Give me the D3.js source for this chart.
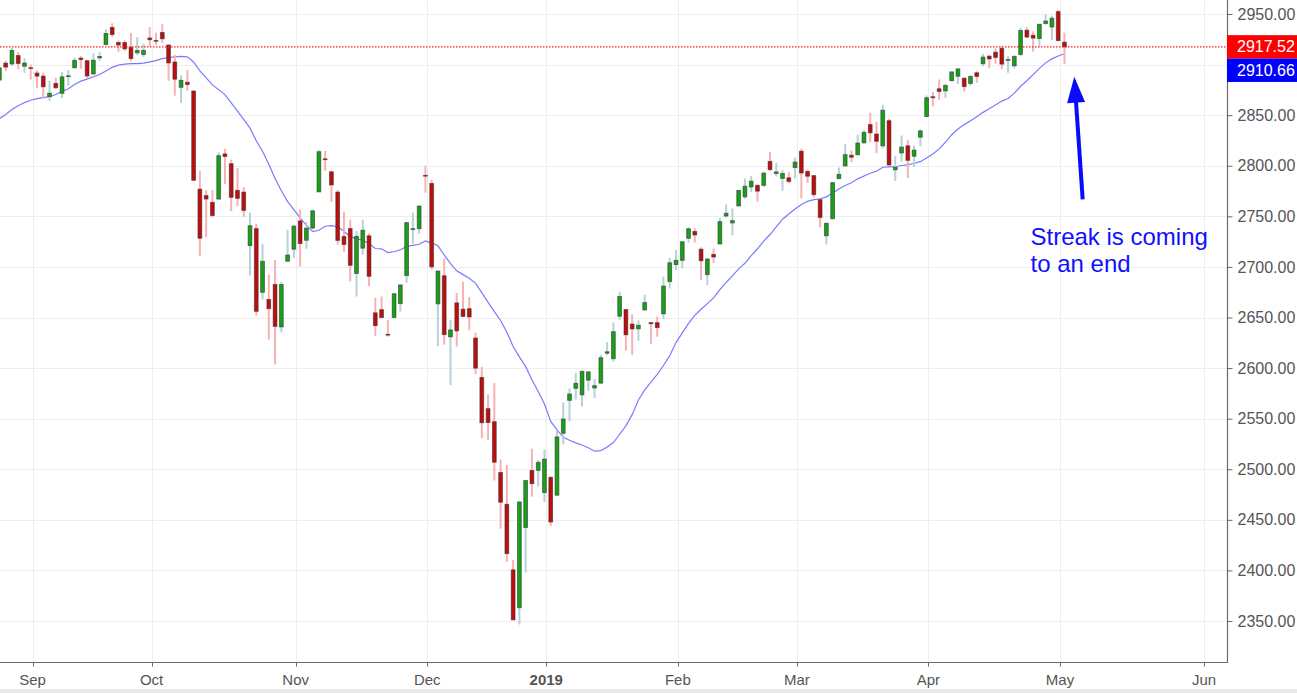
<!DOCTYPE html>
<html><head><meta charset="utf-8">
<script src="https://cdn.jsdelivr.net/npm/d3@7"></script>
<style>
html,body{margin:0;padding:0;background:#fff;overflow:hidden}
text{font-family:"Liberation Sans",Arial,Helvetica,sans-serif}
</style>
</head><body><svg id="chart" width="1297" height="693"></svg>
<script>
// ---------- data (S&P 500 daily candles, 20-day SMA) ----------
const dates = [
"2018-08-27","2018-08-28","2018-08-29","2018-08-30","2018-08-31",
"2018-09-04","2018-09-05","2018-09-06","2018-09-07","2018-09-10","2018-09-11","2018-09-12","2018-09-13","2018-09-14","2018-09-17","2018-09-18","2018-09-19","2018-09-20","2018-09-21","2018-09-24","2018-09-25","2018-09-26","2018-09-27","2018-09-28",
"2018-10-01","2018-10-02","2018-10-03","2018-10-04","2018-10-05","2018-10-08","2018-10-09","2018-10-10","2018-10-11","2018-10-12","2018-10-15","2018-10-16","2018-10-17","2018-10-18","2018-10-19","2018-10-22","2018-10-23","2018-10-24","2018-10-25","2018-10-26","2018-10-29","2018-10-30","2018-10-31",
"2018-11-01","2018-11-02","2018-11-05","2018-11-06","2018-11-07","2018-11-08","2018-11-09","2018-11-12","2018-11-13","2018-11-14","2018-11-15","2018-11-16","2018-11-19","2018-11-20","2018-11-21","2018-11-23","2018-11-26","2018-11-27","2018-11-28","2018-11-29","2018-11-30",
"2018-12-03","2018-12-04","2018-12-06","2018-12-07","2018-12-10","2018-12-11","2018-12-12","2018-12-13","2018-12-14","2018-12-17","2018-12-18","2018-12-19","2018-12-20","2018-12-21","2018-12-24","2018-12-26","2018-12-27","2018-12-28","2018-12-31",
"2019-01-02","2019-01-03","2019-01-04","2019-01-07","2019-01-08","2019-01-09","2019-01-10","2019-01-11","2019-01-14","2019-01-15","2019-01-16","2019-01-17","2019-01-18","2019-01-22","2019-01-23","2019-01-24","2019-01-25","2019-01-28","2019-01-29","2019-01-30","2019-01-31",
"2019-02-01","2019-02-04","2019-02-05","2019-02-06","2019-02-07","2019-02-08","2019-02-11","2019-02-12","2019-02-13","2019-02-14","2019-02-15","2019-02-19","2019-02-20","2019-02-21","2019-02-22","2019-02-25","2019-02-26","2019-02-27","2019-02-28",
"2019-03-01","2019-03-04","2019-03-05","2019-03-06","2019-03-07","2019-03-08","2019-03-11","2019-03-12","2019-03-13","2019-03-14","2019-03-15","2019-03-18","2019-03-19","2019-03-20","2019-03-21","2019-03-22","2019-03-25","2019-03-26","2019-03-27","2019-03-28","2019-03-29",
"2019-04-01","2019-04-02","2019-04-03","2019-04-04","2019-04-05","2019-04-08","2019-04-09","2019-04-10","2019-04-11","2019-04-12","2019-04-15","2019-04-16","2019-04-17","2019-04-18","2019-04-22","2019-04-23","2019-04-24","2019-04-25","2019-04-26","2019-04-29","2019-04-30",
"2019-05-01","2019-05-02"];

const opens = [2884.69,2901.45,2900.62,2908.94,2898.37,
2896.96,2891.59,2888.64,2868.26,2881.39,2871.57,2888.29,2896.85,2906.38,2903.83,2890.74,2906.60,2919.73,2936.76,2921.83,2921.75,2916.98,2911.65,2910.03,
2926.29,2923.80,2931.69,2919.35,2902.54,2877.53,2882.51,2873.90,2776.87,2770.54,2763.83,2767.05,2811.67,2802.00,2775.66,2773.94,2721.03,2737.87,2674.88,2667.86,2682.65,2640.68,2705.60,
2717.58,2745.45,2726.37,2738.40,2774.13,2806.83,2794.10,2773.93,2730.05,2737.90,2693.52,2718.54,2730.74,2654.60,2657.74,2633.36,2649.97,2663.75,2691.45,2736.97,2737.76,
2790.50,2782.43,2663.51,2691.26,2630.86,2664.44,2658.23,2658.70,2629.68,2590.75,2559.90,2547.05,2496.77,2465.38,2400.56,2363.12,2442.50,2498.77,2498.94,
2476.96,2491.92,2474.33,2535.61,2568.11,2580.00,2573.51,2588.11,2580.31,2585.10,2614.75,2609.28,2651.27,2657.88,2643.48,2638.84,2657.44,2644.97,2644.89,2653.62,2685.49,
2702.32,2706.49,2728.34,2735.05,2717.53,2692.36,2712.40,2722.61,2750.30,2743.50,2760.24,2769.28,2779.05,2780.67,2780.67,2804.35,2792.36,2787.50,2788.11,
2798.22,2814.37,2794.41,2790.27,2766.53,2730.79,2747.61,2787.34,2799.78,2810.38,2810.79,2822.61,2840.76,2831.34,2819.72,2844.52,2796.01,2812.66,2819.72,2809.40,2828.27,
2848.63,2868.24,2876.09,2873.99,2884.16,2888.46,2886.58,2881.37,2891.92,2900.86,2908.32,2912.26,2916.04,2904.81,2898.78,2909.99,2934.00,2928.99,2925.81,2940.58,2937.14,
2952.33,2922.16];

const highs = [2898.25,2903.77,2916.50,2912.46,2906.32,
2900.18,2894.21,2892.05,2883.81,2886.93,2892.52,2894.65,2906.76,2908.30,2904.65,2911.17,2912.36,2934.80,2940.91,2923.79,2923.95,2931.15,2927.22,2920.53,
2937.06,2931.42,2939.86,2919.78,2909.64,2889.45,2894.83,2874.02,2795.14,2775.77,2775.99,2813.46,2816.94,2806.04,2797.77,2778.94,2753.59,2742.59,2722.70,2692.38,2706.85,2685.43,2736.69,
2741.67,2756.55,2744.27,2756.82,2815.15,2814.75,2794.10,2775.99,2754.60,2746.80,2735.38,2746.75,2733.16,2669.44,2670.73,2647.55,2674.35,2682.53,2744.00,2753.75,2760.88,
2800.18,2785.93,2696.15,2708.54,2647.51,2674.35,2685.44,2670.19,2635.07,2601.13,2573.99,2585.29,2509.63,2504.41,2410.34,2467.76,2489.10,2520.27,2509.24,
2519.49,2493.14,2538.07,2566.16,2579.82,2595.32,2597.82,2596.27,2589.32,2613.08,2625.76,2645.06,2675.47,2657.88,2653.19,2647.20,2672.38,2644.97,2650.93,2690.44,2708.95,
2716.66,2724.99,2738.98,2738.08,2719.32,2708.07,2718.05,2748.19,2761.85,2757.90,2775.66,2787.33,2789.88,2781.58,2794.20,2813.49,2803.12,2795.76,2793.73,
2808.02,2816.88,2796.44,2790.27,2767.25,2744.13,2784.00,2798.32,2821.24,2815.00,2830.73,2835.41,2852.42,2843.54,2860.31,2846.16,2809.79,2829.87,2825.56,2819.71,2836.03,
2869.40,2872.90,2885.25,2881.28,2893.24,2895.95,2886.88,2889.71,2893.42,2910.54,2909.60,2916.06,2918.00,2908.40,2909.51,2936.31,2936.83,2933.10,2939.88,2949.52,2948.22,
2954.13,2931.68];

const lows = [2884.69,2893.50,2898.40,2895.22,2891.73,
2885.13,2876.92,2867.29,2864.12,2875.94,2866.78,2879.20,2896.39,2895.77,2886.16,2890.43,2903.82,2919.73,2927.11,2912.63,2913.70,2903.28,2909.27,2907.50,
2917.91,2919.37,2921.36,2883.92,2869.29,2862.08,2874.27,2784.86,2710.51,2729.44,2749.03,2766.91,2781.81,2755.18,2760.27,2749.22,2691.43,2651.89,2667.84,2628.16,2603.54,2635.34,2705.60,
2708.85,2700.44,2717.94,2737.08,2774.13,2794.99,2764.24,2722.00,2714.98,2685.75,2670.75,2712.16,2681.09,2631.52,2649.82,2631.09,2649.97,2655.89,2684.38,2722.94,2732.76,
2773.38,2697.18,2621.53,2623.14,2583.23,2621.30,2650.26,2637.27,2593.84,2530.54,2528.71,2488.96,2441.18,2408.55,2351.10,2346.58,2397.94,2472.89,2482.82,
2467.47,2443.96,2474.33,2524.56,2547.56,2568.89,2562.02,2577.40,2570.41,2585.10,2612.68,2606.36,2647.58,2617.27,2612.86,2627.01,2657.33,2624.06,2631.05,2648.34,2678.65,
2696.88,2698.75,2724.03,2724.15,2687.26,2681.83,2703.79,2722.61,2748.63,2731.23,2760.24,2767.29,2774.06,2764.55,2779.11,2794.99,2789.47,2775.13,2782.51,
2787.38,2767.66,2782.97,2768.69,2739.09,2722.27,2747.61,2786.73,2799.78,2803.46,2810.79,2821.99,2823.27,2812.43,2817.38,2800.47,2785.02,2803.99,2787.72,2798.77,2819.23,
2848.63,2858.75,2865.17,2867.14,2882.99,2880.78,2873.33,2879.13,2881.99,2898.37,2896.48,2900.71,2895.45,2891.90,2896.35,2908.53,2926.05,2912.84,2917.56,2939.35,2924.11,
2923.36,2900.50];

const closes = [2896.74,2897.52,2914.04,2901.13,2901.52,
2896.72,2888.60,2878.05,2871.68,2877.13,2887.89,2888.92,2904.18,2904.98,2888.80,2904.31,2907.95,2930.75,2929.67,2919.37,2915.56,2905.97,2914.00,2913.98,
2924.59,2923.43,2925.51,2901.61,2885.57,2884.43,2880.34,2785.68,2728.37,2767.13,2750.79,2809.92,2809.21,2768.78,2767.78,2755.88,2740.69,2656.10,2705.57,2658.69,2641.25,2682.63,2711.74,
2740.37,2723.06,2738.31,2755.45,2813.89,2806.83,2781.01,2726.22,2722.18,2701.58,2730.20,2736.27,2690.73,2641.89,2649.93,2632.56,2673.45,2682.17,2743.79,2737.80,2760.17,
2790.37,2700.06,2695.95,2633.08,2637.72,2636.78,2651.07,2650.54,2599.95,2545.94,2546.16,2506.96,2467.42,2416.62,2351.10,2467.70,2488.83,2485.74,2506.85,
2510.03,2447.89,2531.94,2549.69,2574.41,2584.96,2596.64,2596.26,2582.61,2610.30,2616.10,2635.96,2670.71,2632.90,2638.70,2642.33,2664.76,2643.85,2640.00,2681.05,2704.10,
2706.53,2724.87,2737.70,2731.61,2706.05,2707.88,2709.80,2744.73,2753.03,2745.73,2775.60,2779.76,2784.70,2774.88,2792.67,2796.11,2793.90,2792.38,2784.49,
2803.69,2792.81,2789.65,2771.45,2748.93,2743.07,2783.30,2791.52,2810.92,2808.48,2822.48,2832.94,2832.57,2824.23,2854.88,2800.71,2798.36,2818.46,2805.37,2815.44,2834.40,
2867.19,2867.24,2873.40,2879.39,2892.74,2895.77,2878.20,2888.21,2888.32,2907.41,2905.58,2907.06,2900.45,2905.03,2907.97,2933.68,2927.25,2926.17,2939.88,2943.03,2945.83,
2923.73,2917.52];

const sma20 = [2846.60,2850.66,2855.69,2859.39,2862.45,
2864.76,2866.27,2867.29,2868.19,2870.39,2873.68,2876.13,2880.42,2883.64,2885.57,2887.93,2890.18,2893.63,2897.26,2899.50,2900.44,2900.86,2900.86,2901.50,
2902.66,2903.99,2905.84,2907.01,2907.71,2908.07,2907.70,2902.53,2893.74,2886.85,2879.95,2875.23,2870.29,2862.20,2854.10,2845.93,2837.18,2824.69,2814.27,2801.50,2787.34,2775.30,2764.61,
2756.55,2748.42,2741.11,2734.87,2736.28,2740.20,2740.90,2739.67,2735.28,2729.90,2727.97,2726.40,2723.14,2718.20,2717.89,2714.24,2714.98,2717.02,2720.08,2721.38,2722.37,
2725.74,2723.83,2720.85,2711.81,2703.36,2696.14,2692.39,2688.81,2683.72,2674.51,2665.01,2655.82,2647.09,2635.43,2621.36,2611.07,2601.40,2588.50,2576.95,
2564.44,2547.32,2538.91,2531.60,2528.67,2526.03,2524.02,2521.28,2517.88,2518.40,2521.91,2526.40,2534.59,2542.86,2553.97,2568.53,2578.38,2586.13,2593.84,2602.55,2612.26,
2625.19,2634.84,2644.24,2652.10,2658.15,2663.71,2669.39,2677.50,2684.63,2691.11,2698.10,2703.55,2711.14,2717.95,2725.46,2732.03,2739.53,2747.15,2752.33,
2757.31,2761.62,2764.86,2766.55,2767.41,2769.26,2773.03,2777.12,2780.43,2783.20,2787.04,2789.91,2792.55,2794.52,2798.52,2798.93,2799.04,2800.27,2800.92,2802.46,2804.00,
2807.72,2811.60,2816.69,2823.22,2830.70,2836.32,2840.66,2844.52,2848.51,2852.76,2856.39,2860.12,2863.93,2866.44,2871.80,2878.57,2884.01,2890.05,2896.27,2901.70,2905.63,
2908.45,2910.66];

const yTicks = [2350,2400,2450,2500,2550,2600,2650,2700,2750,2800,2850,2900,2950];
const xTickDates  = ["2018-09-04","2018-10-01","2018-11-01","2018-12-03","2019-01-02","2019-02-01","2019-03-01","2019-04-01","2019-05-01","2019-06-03"];
const xTickLabels = ["Sep","Oct","Nov","Dec","2019","Feb","Mar","Apr","May","Jun"];
const annotationLines = ["Streak is coming","to an end"];

// ---------- layout ----------
const W = 1297, H = 693;
const plotRight = 1227, plotBottom = 662;
const svg = d3.select("#chart");

// trading-day index of a date (future dates: count weekdays after last candle)
function tradingIndex(ds){
  const k = dates.indexOf(ds);
  if (k >= 0) return k;
  let n = dates.length - 1;
  let d = new Date(dates[n] + "T00:00:00Z");
  const end = new Date(ds + "T00:00:00Z");
  while (d < end){
    d = new Date(d.getTime() + 86400000);
    const wd = d.getUTCDay();
    if (wd !== 0 && wd !== 6) n++;
  }
  return n;
}
const lastTickIdx = tradingIndex(xTickDates[xTickDates.length-1]);
const x = d3.scaleLinear().domain([0, lastTickIdx]).range([-0.6, -0.6 + lastTickIdx*6.265]);
const y = d3.scaleLinear().domain([2350, 2950]).range([621, 14]);
const tickShift = 1.8;

// background
svg.append("rect").attr("width", W).attr("height", H).attr("fill", "#fff");
svg.append("rect").attr("x", 0).attr("y", 689).attr("width", W).attr("height", 4).attr("fill", "#e9e9e9");

// grid
const grid = svg.append("g").attr("shape-rendering", "crispEdges");
grid.selectAll("line.h").data(yTicks).join("line")
  .attr("x1", 0).attr("x2", plotRight).attr("y1", d => Math.round(y(d)) + 0.5).attr("y2", d => Math.round(y(d)) + 0.5)
  .attr("stroke", "#eeeeee").attr("stroke-width", 1);
const xTickIdx = xTickDates.map(tradingIndex);
grid.selectAll("line.v").data(xTickIdx).join("line")
  .attr("x1", d => Math.round(x(d) + tickShift) + 0.5).attr("x2", d => Math.round(x(d) + tickShift) + 0.5)
  .attr("y1", 0).attr("y2", plotBottom)
  .attr("stroke", "#eeeeee").attr("stroke-width", 1);

// plot clip
svg.append("clipPath").attr("id", "clip").append("rect").attr("x", 0).attr("y", 0).attr("width", plotRight).attr("height", plotBottom);
const plot = svg.append("g").attr("clip-path", "url(#clip)");

const lastClose = closes[closes.length - 1];
const lastSma = sma20[sma20.length - 1];

// SMA line
plot.append("path").datum(sma20)
  .attr("fill", "none").attr("stroke", "#7a7aff").attr("stroke-width", 1.2)
  .attr("d", d3.line().x((d, i) => x(i)).y(d => y(d)));

// candles
const candles = dates.map((d, i) => ({i, o: opens[i], h: highs[i], l: lows[i], c: closes[i]}));
const g = plot.append("g");
g.selectAll("line.wick").data(candles).join("line")
  .attr("x1", d => x(d.i)).attr("x2", d => x(d.i))
  .attr("y1", d => y(d.h)).attr("y2", d => y(d.l))
  .attr("stroke", d => d.c > d.o ? "#b6d2d6" : "#f5b3b6").attr("stroke-width", 2);
g.selectAll("rect.body").data(candles).join("rect")
  .attr("x", d => x(d.i) - 1.9).attr("width", 3.8)
  .attr("y", d => Math.min(y(d.o), y(d.c)))
  .attr("height", d => Math.max(0.8, Math.abs(y(d.o) - y(d.c))))
  .attr("fill", d => d.c > d.o ? "#18a018" : "#c00d0d")
  .attr("stroke", "rgba(45,45,45,0.6)").attr("stroke-width", 0.9);

// last price dotted line (red)
const ly = y(lastClose);
svg.append("line").attr("x1", 0).attr("x2", plotRight).attr("y1", ly).attr("y2", ly)
  .attr("stroke", "#ff1a1a").attr("stroke-width", 1.3)
  .attr("stroke-dasharray", "1.5,1.5");

// axes lines
svg.append("line").attr("x1", 0).attr("x2", plotRight + 0.5).attr("y1", plotBottom + 0.5).attr("y2", plotBottom + 0.5)
  .attr("stroke", "#6a6a6a").attr("stroke-width", 1.2);
svg.append("line").attr("x1", plotRight + 0.5).attr("x2", plotRight + 0.5).attr("y1", 0).attr("y2", plotBottom + 1)
  .attr("stroke", "#6a6a6a").attr("stroke-width", 1.2);

// price label boxes geometry (labels of the right axis hidden by them are not drawn)
const boxH = 23.4;
const redC = y(lastClose);
const blueC = Math.max(y(lastSma), redC + boxH);
const boxes = [[redC, "#ff0000", lastClose], [blueC, "#0000ff", lastSma]];
const hidden = v => boxes.some(([cy]) => Math.abs(y(v) - cy) < boxH/2 + 6);

// y axis (right)
const yAxis = d3.axisRight(y).tickValues(yTicks).tickSize(5).tickPadding(5)
  .tickFormat(d => hidden(d) ? "" : d3.format(".2f")(d));
const ya = svg.append("g").attr("transform", `translate(${plotRight + 0.5},0)`).call(yAxis);
ya.select(".domain").remove();
ya.selectAll(".tick line").attr("stroke", "#6a6a6a");
ya.selectAll(".tick text").attr("fill", "#555").attr("font-size", 16).attr("font-family", "Liberation Sans, Arial, sans-serif");

// x axis (bottom) with month labels
const xa = svg.append("g").attr("transform", `translate(0,${plotBottom + 0.5})`);
xa.selectAll("line").data(xTickIdx).join("line")
  .attr("x1", d => Math.round(x(d) + tickShift) + 0.5).attr("x2", d => Math.round(x(d) + tickShift) + 0.5)
  .attr("y1", 0).attr("y2", 4).attr("stroke", "#6a6a6a");
xa.selectAll("text").data(xTickIdx).join("text")
  .attr("x", d => x(d) + tickShift).attr("y", 22)
  .attr("text-anchor", "middle").attr("font-size", 15).attr("fill", "#555")
  .attr("font-weight", (d, i) => xTickLabels[i] === "2019" ? "bold" : "normal")
  .text((d, i) => xTickLabels[i]);

// price labels on right
boxes.forEach(([cy, col, v]) => {
  svg.append("rect").attr("x", plotRight).attr("y", cy - boxH/2).attr("width", W - plotRight).attr("height", boxH).attr("fill", col);
  svg.append("text").attr("x", 1237).attr("y", cy).attr("dy", "0.35em")
    .attr("fill", "#fff").attr("font-size", 16).text(d3.format(".2f")(v));
});

// annotation (anchored in data space)
const arrowTail = {i: 172.91, v: 2766.8};
const arrowTip  = {i: 171.57, v: 2888.0};
const tx = x(arrowTip.i), ty = y(arrowTip.v), sx = x(arrowTail.i), sy = y(arrowTail.v);
const len = Math.hypot(tx - sx, ty - sy), ux = (tx - sx)/len, uy = (ty - sy)/len;
const headL = 26, headW = 9;
const bx = tx - ux*headL, by = ty - uy*headL;
svg.append("line").attr("x1", sx).attr("y1", sy).attr("x2", bx + ux*2).attr("y2", by + uy*2)
  .attr("stroke", "#0a0aff").attr("stroke-width", 4);
svg.append("path").attr("fill", "#0a0aff")
  .attr("d", `M${tx},${ty}L${bx - uy*headW},${by + ux*headW}L${bx + uy*headW},${by - ux*headW}Z`);
const annot = svg.append("text").attr("fill", "#1010ff").attr("font-size", 24);
annotationLines.forEach((s, k) => {
  annot.append("tspan").attr("x", x(164.58)).attr("y", y(2721.7 - k*26.7)).text(s);
});
</script></body></html>
